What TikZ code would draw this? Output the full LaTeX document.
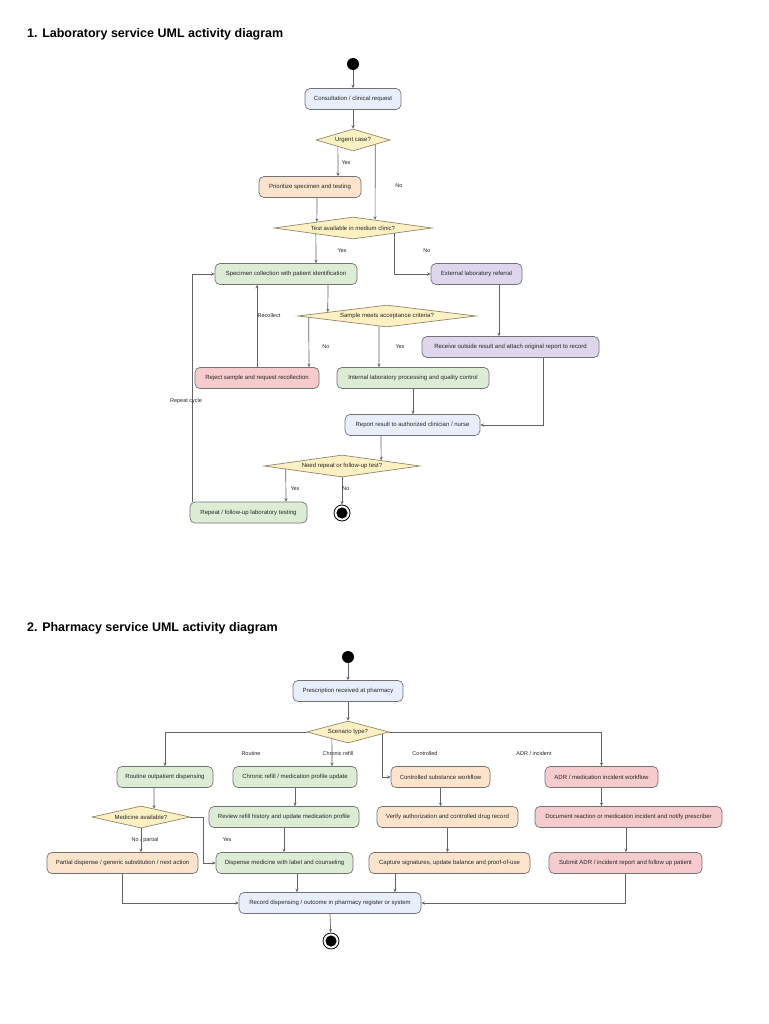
\documentclass[tikz,border=0pt]{standalone}
\usepackage{fontspec}
\setmainfont{Liberation Sans}
\usetikzlibrary{arrows.meta,calc,shapes.geometric}
\definecolor{actblue}{RGB}{231,239,252}
\definecolor{actorange}{RGB}{252,228,204}
\definecolor{actgreen}{RGB}{221,236,213}
\definecolor{actpurple}{RGB}{221,214,236}
\definecolor{actred}{RGB}{246,203,205}
\definecolor{decyellow}{RGB}{253,241,196}
\definecolor{edgegray}{RGB}{115,115,115}
\definecolor{decedge}{RGB}{145,135,105}
\definecolor{linegray}{RGB}{100,100,100}

\begin{document}
\begin{tikzpicture}[x=1pt, y=-1pt, >={Stealth[length=3.4pt,width=3pt]},
    act/.style={draw=edgegray, line width=0.7pt, rounded corners=5pt, minimum height=21pt, inner xsep=3pt, font=\fontsize{6}{7}\selectfont, text=black!85},
    dec/.style={diamond, aspect=6, draw=decedge, line width=0.7pt, fill=decyellow, inner sep=0pt, minimum height=22pt, font=\fontsize{6}{7}\selectfont, text=black!85},
    flow/.style={->, draw=linegray, line width=0.7pt},
    lbl/.style={font=\fontsize{5.5}{6.5}\selectfont, text=black!85, inner sep=1pt},
    startdot/.style={circle, fill=black, minimum size=12pt, inner sep=0pt},
    enddot/.style={circle, draw=black, line width=0.8pt, fill=white, minimum size=16pt, inner sep=0pt,
      path picture={\fill[black] (path picture bounding box.center) circle (5.6pt);}},
    heading/.style={anchor=west, inner sep=0pt, font=\fontsize{12.5}{14}\selectfont\bfseries}]
  \useasboundingbox (0,0) rectangle (768,1024);

  \node[heading] (t1) at (27,34) {1. Laboratory service UML activity diagram};
  \node[startdot] (s1) at (353,64) {};
  \node[act, fill=actblue, minimum width=96pt] (cons) at (353,99) {Consultation / clinical request};
  \node[dec, minimum width=74pt] (urg) at (353,140) {Urgent case?};
  \node[act, fill=actorange, minimum width=102pt] (prio) at (310,187) {Prioritize specimen and testing};
  \node[dec, minimum width=158pt] (test) at (353,228) {Test available in medium clinic?};
  \node[act, fill=actgreen, minimum width=142pt] (spec) at (286,274) {Specimen collection with patient identification};
  \node[act, fill=actpurple, minimum width=91pt] (ext) at (476.5,274) {External laboratory referral};
  \node[dec, minimum width=178pt] (samp) at (387,316) {Sample meets acceptance criteria?};
  \node[act, fill=actpurple, minimum width=177pt] (rec) at (510.5,347) {Receive outside result and attach original report to record};
  \node[act, fill=actred, minimum width=124pt] (rej) at (257,378) {Reject sample and request recollection};
  \node[act, fill=actgreen, minimum width=152pt] (int) at (413,378) {Internal laboratory processing and quality control};
  \node[act, fill=actblue, minimum width=135pt] (rep) at (412.5,425) {Report result to authorized clinician / nurse};
  \node[dec, minimum width=156pt] (need) at (342,466) {Need repeat or follow-up test?};
  \node[act, fill=actgreen, minimum width=117pt] (rpt) at (248.5,512.5) {Repeat / follow-up laboratory testing};
  \node[enddot] (f1) at (342,513) {};

  \draw[flow] (s1) -- (cons);
  \draw[flow] (cons) -- (urg);
  \draw[flow] ($(urg.south)!15/37!(urg.west)$) -- ([xshift=28pt]prio.north);
  \draw[flow] ($(urg.south)!22/37!(urg.east)$) -- ($(test.north)!22/79!(test.east)$);
  \draw[flow] ([xshift=7pt]prio.south) -- ($(test.north)!36/79!(test.west)$);
  \draw[flow] ($(test.south)!37/79!(test.west)$) -- ([xshift=30pt]spec.north);
  \draw[flow] ($(test.south)!41/79!(test.east)$) |- (ext.west);
  \draw[flow] ([xshift=42pt]spec.south) -- ($(samp.north)!59/89!(samp.west)$);
  \draw[flow] ($(samp.south)!78/89!(samp.west)$) -- ([xshift=52pt]rej.north);
  \draw[flow] ($(samp.south)!8/89!(samp.west)$) -- ([xshift=-34pt]int.north);
  \draw[flow] (rej.north) -- ([xshift=-29pt]spec.south);
  \draw[flow] ([xshift=22.5pt]ext.south) -- ([xshift=-11.5pt]rec.north);
  \draw[flow] (int.south) -- (int.south |- rep.north);
  \draw[flow] ([xshift=32.5pt]rec.south) |- (rep.east);
  \draw[flow] ([xshift=-31.5pt]rep.south) -- ($(need.north)!39/78!(need.east)$);
  \draw[flow] ($(need.south)!56/78!(need.west)$) -- ([xshift=37.5pt]rpt.north);
  \draw[flow] (need.south) -- (f1);
  \draw[flow] ([xshift=-56.5pt]rpt.north) |- (spec.west);

  \node[lbl] (y1) at (346,163) {Yes};
  \node[lbl] (n1) at (399,186) {No};
  \node[lbl] (y2) at (342,251) {Yes};
  \node[lbl] (n2) at (427,251) {No};
  \node[lbl] (rc) at (269,316) {Recollect};
  \node[lbl] (n3) at (326,347) {No};
  \node[lbl] (y3) at (400,347) {Yes};
  \node[lbl] (cyc) at (186,401) {Repeat cycle};
  \node[lbl] (y4) at (295,489) {Yes};
  \node[lbl] (n4) at (346,489) {No};

  \node[heading] (t2) at (27,628) {2. Pharmacy service UML activity diagram};
  \node[startdot] (s2) at (348,657) {};
  \node[act, fill=actblue, minimum width=110pt] (pres) at (348,691) {Prescription received at pharmacy};
  \node[dec, minimum width=82pt] (scen) at (348,732) {Scenario type?};
  \node[act, fill=actgreen, minimum width=96pt] (rout) at (165,777) {Routine outpatient dispensing};
  \node[act, fill=actgreen, minimum width=124pt] (chr) at (295,777) {Chronic refill / medication profile update};
  \node[act, fill=actorange, minimum width=99pt] (ctrl) at (440.5,777) {Controlled substance workflow};
  \node[act, fill=actred, minimum width=113pt] (adr) at (601.5,777) {ADR / medication incident workflow};
  \node[dec, minimum width=98pt] (med) at (141,817) {Medicine available?};
  \node[act, fill=actgreen, minimum width=150pt] (rev) at (284,817) {Review refill history and update medication profile};
  \node[act, fill=actorange, minimum width=141pt] (ver) at (447.5,817) {Verify authorization and controlled drug record};
  \node[act, fill=actred, minimum width=187pt] (doc) at (628.5,817) {Document reaction or medication incident and notify prescriber};
  \node[act, fill=actorange, minimum width=151pt] (part) at (122.5,863) {Partial dispense / generic substitution / next action};
  \node[act, fill=actgreen, minimum width=137pt] (disp) at (284.5,863) {Dispense medicine with label and counseling};
  \node[act, fill=actorange, minimum width=161pt] (cap) at (449.5,863) {Capture signatures, update balance and proof-of-use};
  \node[act, fill=actred, minimum width=153pt] (sub) at (625.5,863) {Submit ADR / incident report and follow up patient};
  \node[act, fill=actblue, minimum width=182pt] (rec2) at (330,903) {Record dispensing / outcome in pharmacy register or system};
  \node[enddot] (f2) at (331,941) {};

  \draw[flow] (s2) -- (pres);
  \draw[flow] (pres) -- (scen);
  \draw[flow] (scen.west) -| (rout.north);
  \draw[flow] ($(scen.south)!16/41!(scen.west)$) -- ([xshift=37pt]chr.north);
  \draw[flow] ($(scen.south)!34/41!(scen.east)$) |- (ctrl.west);
  \draw[flow] (scen.east) -| (adr.north);
  \draw[flow] ([xshift=-11pt]rout.south) -- ($(med.north)!13/49!(med.east)$);
  \draw[flow] (med.east) -- ([xshift=13pt]med.east) |- (disp.west);
  \draw[flow] (med.south) -- (med.south |- part.north);
  \draw[flow] (chr.south) -- (chr.south |- rev.north);
  \draw[flow] (rev.south) -- (rev.south |- disp.north);
  \draw[flow] (ctrl.south) -- (ctrl.south |- ver.north);
  \draw[flow] (ver.south) -- (ver.south |- cap.north);
  \draw[flow] (adr.south) -- (adr.south |- doc.north);
  \draw[flow] ([xshift=-2.5pt]doc.south) -- ([xshift=-2.5pt]doc.south |- sub.north);
  \draw[flow] (part.south) |- (rec2.west);
  \draw[flow] ([xshift=12.5pt]disp.south) -- ([xshift=12.5pt]disp.south |- rec2.north);
  \draw[flow] ([xshift=-54.5pt]cap.south) -- ([xshift=-54.5pt]cap.south |- rec2.north);
  \draw[flow] (sub.south) |- (rec2.east);
  \draw[flow] (rec2.south) -- (f2);

  \node[lbl] (l1) at (251,754) {Routine};
  \node[lbl] (l2) at (338,754) {Chronic refill};
  \node[lbl] (l3) at (425,754) {Controlled};
  \node[lbl] (l4) at (534,754) {ADR / incident};
  \node[lbl] (l5) at (145,840) {No / partial};
  \node[lbl] (l6) at (227,840) {Yes};
\end{tikzpicture}
\end{document}
